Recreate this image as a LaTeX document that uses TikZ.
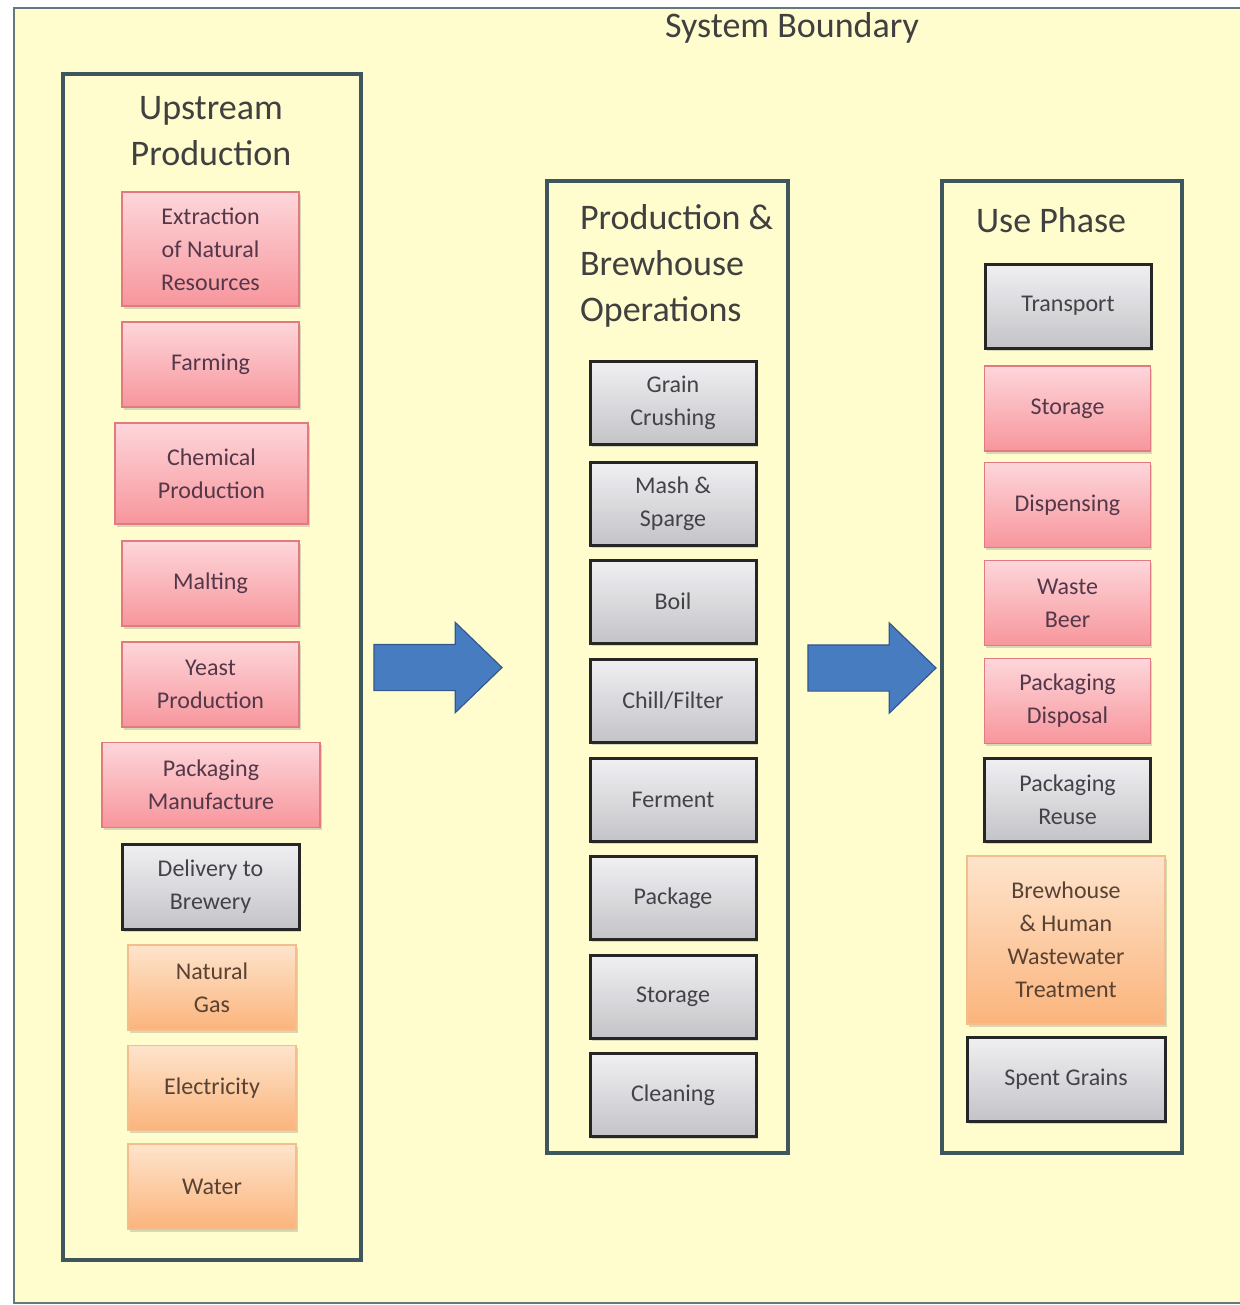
\documentclass[tikz,border=0pt]{standalone}
\usepackage{fontspec}
\setmainfont{Carlito}
\usetikzlibrary{shapes.arrows,shadows}
\definecolor{bgyellow}{RGB}{255,253,206}
\definecolor{framecol}{RGB}{62,86,94}
\definecolor{pinktop}{RGB}{253,214,218}
\definecolor{pinkbot}{RGB}{247,150,156}
\definecolor{pinkedge}{RGB}{226,122,130}
\definecolor{pinktext}{RGB}{84,56,74}
\definecolor{graytop}{RGB}{240,240,243}
\definecolor{graybot}{RGB}{196,196,200}
\definecolor{graytext}{RGB}{66,66,72}
\definecolor{orangetop}{RGB}{254,228,204}
\definecolor{orangebot}{RGB}{251,180,124}
\definecolor{orangeedge}{RGB}{242,190,140}
\definecolor{orangetext}{RGB}{88,66,52}
\definecolor{arrowblue}{RGB}{72,124,192}
\definecolor{arrowedge}{RGB}{52,88,140}
\newcommand\boxfont{\fontsize{12}{16.5}\selectfont}
\newcommand\titlefont{\fontsize{18}{22.8}\selectfont}

\begin{document}
\begin{tikzpicture}[x=0.5pt,y=-0.5pt,
  stage/.style={rectangle, draw=framecol, line width=1.6pt},
  box/.style={rectangle, align=center, inner sep=2pt, font=\boxfont,
    minimum width=88.5pt, minimum height=42.5pt,
    drop shadow={shadow xshift=0.8pt, shadow yshift=-1.4pt, opacity=0.3}},
  pinkbox/.style={box, top color=pinktop, bottom color=pinkbot, draw=pinkedge, line width=0.9pt, text=pinktext},
  graybox/.style={box, top color=graytop, bottom color=graybot, draw=black!85, line width=1.5pt, text=graytext},
  orangebox/.style={box, top color=orangetop, bottom color=orangebot, draw=orangeedge, line width=0.9pt, text=orangetext},
  midbox/.style={graybox, minimum width=83pt, minimum height=41.5pt},
  bigarrow/.style={single arrow, fill=arrowblue, draw=arrowedge, line width=0.6pt,
    minimum height=64pt, minimum width=44.5pt, single arrow head extend=11pt,
    single arrow tip angle=88, inner xsep=0pt, inner ysep=11.25pt}]
\useasboundingbox (0,0) rectangle (1240,1305);
\fill[white] (0,0) rectangle (1240,1305);

% system boundary
\fill[bgyellow] (14,8) rectangle (1240,1303);
\draw[framecol!80, line width=1.3pt] (1240,8) -- (14,8) -- (14,1303) -- (1240,1303);
\node[font=\titlefont, text=black!75] (sysb) at (792,28) {System Boundary};

% the three stages
\node[stage, minimum width=149pt, minimum height=593pt] (up) at (212,667) {};
\node[stage, minimum width=120.5pt, minimum height=486pt] (prod) at (667.5,667) {};
\node[stage, minimum width=120pt, minimum height=486pt] (use) at (1062,667) {};

\node[font=\titlefont, text=black!75, align=center] (uptitle) at (211,131) {Upstream\\Production};
\node[font=\titlefont, text=black!75, align=left, anchor=west] (prodtitle) at (573,266) {Production \&\\Brewhouse\\Operations};
\node[font=\titlefont, text=black!75, anchor=west] (usetitle) at (969,220) {Use Phase};

% upstream production
\node[pinkbox, minimum height=57pt] (extract) at (210.5,249) {Extraction\\of Natural\\Resources};
\node[pinkbox] (farm) at (210.5,364.5) {Farming};
\node[pinkbox, minimum width=96.5pt, minimum height=50.5pt] (chem) at (211.5,473.5) {Chemical\\Production};
\node[pinkbox] (malt) at (210.5,583.5) {Malting};
\node[pinkbox] (yeast) at (210.5,684.5) {Yeast\\Production};
\node[pinkbox, minimum width=109pt] (packman) at (211,785) {Packaging\\Manufacture};
\node[graybox] (deliv) at (210.5,886.5) {Delivery to\\Brewery};
\node[orangebox, minimum width=84pt] (gas) at (212,987.5) {Natural\\Gas};
\node[orangebox, minimum width=84pt] (elec) at (212,1088) {Electricity};
\node[orangebox, minimum width=84pt] (water) at (212,1186.5) {Water};

% production & brewhouse operations
\node[midbox] (crush) at (673,403) {Grain\\Crushing};
\node[midbox] (mash) at (673,503.5) {Mash \&\\Sparge};
\node[midbox] (boil) at (673,601.5) {Boil};
\node[midbox] (chill) at (673,700.5) {Chill/Filter};
\node[midbox] (ferment) at (673,799.5) {Ferment};
\node[midbox] (pack) at (673,898) {Package};
\node[midbox] (store) at (673,996.5) {Storage};
\node[midbox] (clean) at (673,1095) {Cleaning};

% use phase
\node[graybox, minimum width=83pt, minimum height=42pt] (trans) at (1068,306) {Transport};
\node[pinkbox, minimum width=83pt] (ustore) at (1067.5,408.5) {Storage};
\node[pinkbox, minimum width=83pt] (disp) at (1067.5,505) {Dispensing};
\node[pinkbox, minimum width=83pt] (waste) at (1067.5,603) {Waste\\Beer};
\node[pinkbox, minimum width=83pt] (pdisp) at (1067.5,701) {Packaging\\Disposal};
\node[graybox, minimum width=83pt, minimum height=41.5pt] (reuse) at (1067.5,799.5) {Packaging\\Reuse};
\node[orangebox, minimum width=99pt, minimum height=84pt] (wwater) at (1066,940) {Brewhouse\\\& Human\\Wastewater\\Treatment};
\node[graybox, minimum width=99pt, minimum height=42pt] (spent) at (1066,1079) {Spent Grains};

% flow between stages
\node[bigarrow] (arr1) at (426,667.5) {};
\node[bigarrow] (arr2) at (860,668) {};
\end{tikzpicture}
\end{document}
